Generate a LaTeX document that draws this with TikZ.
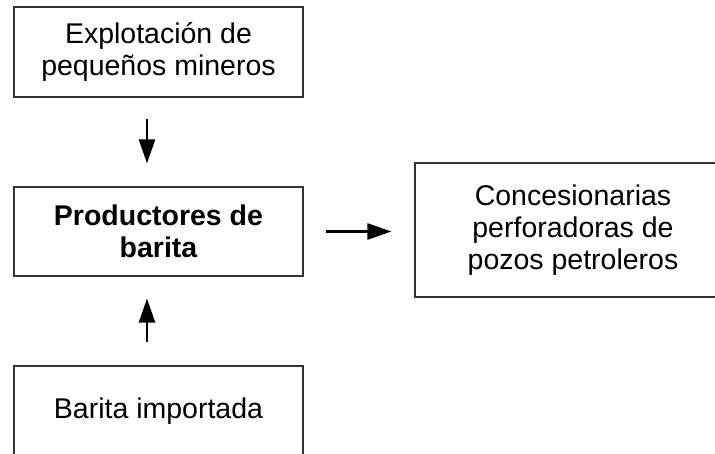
\documentclass[tikz,border=0pt]{standalone}
\usepackage{fontspec}
\setmainfont{Liberation Sans}
\usetikzlibrary{arrows.meta}

\begin{document}
\begin{tikzpicture}[x=1pt,y=-1pt,
  box/.style={draw=black!80,line width=1.2pt,align=center,inner sep=0pt,
    font=\fontsize{28.5}{32}\selectfont},
  flecha/.style={line width=2.5pt,-{Triangle[length=24pt,width=16pt]}}]
\path[use as bounding box,clip] (0,0) rectangle (715,453);
\node[box,minimum width=289,minimum height=90] (explotacion) at (158.5,52) {Explotación de\\pequeños mineros};
\node[box,minimum width=289,minimum height=89,font=\fontsize{28.5}{32}\selectfont\bfseries] (productores) at (158.5,231.5) {Productores de\\barita};
\node[box,minimum width=289,minimum height=90] (importada) at (158.5,411) {Barita importada};
\node[box,minimum width=316,minimum height=134] (concesionarias) at (573,230) {Concesionarias\\perforadoras de\\pozos petroleros};
\draw[flecha,shorten <=21pt,shorten >=23pt] ([xshift=-11.5pt]explotacion.south) -- ([xshift=-11.5pt]productores.north);
\draw[flecha,shorten <=23pt,shorten >=22pt] ([xshift=-11.5pt]importada.north) -- ([xshift=-11.5pt]productores.south);
\draw[flecha,shorten <=22pt,shorten >=23pt] (productores.east) -- (productores.east -| concesionarias.west);
\end{tikzpicture}
\end{document}
